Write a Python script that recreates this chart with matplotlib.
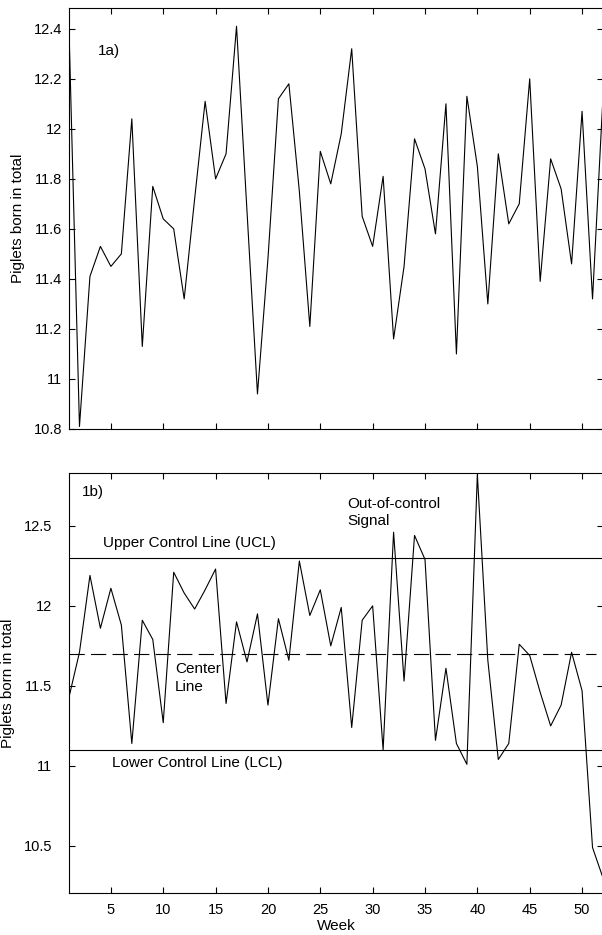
import matplotlib
matplotlib.use('Agg')
import matplotlib.pyplot as plt
import numpy as np

plt.rcParams['font.family'] = ['Liberation Sans', 'DejaVu Sans']
plt.rcParams['lines.scale_dashes'] = False

weeks = np.arange(1, 53)

# 1a) piglets born in total per week
total_1a = [12.40, 10.81, 11.41, 11.53, 11.45, 11.50, 12.04, 11.13, 11.77, 11.64,
            11.60, 11.32, 11.72, 12.11, 11.80, 11.90, 12.41, 11.67, 10.94, 11.48,
            12.12, 12.18, 11.75, 11.21, 11.91, 11.78, 11.98, 12.32, 11.65, 11.53,
            11.81, 11.16, 11.45, 11.96, 11.84, 11.58, 12.10, 11.10, 12.13, 11.85,
            11.30, 11.90, 11.62, 11.70, 12.20, 11.39, 11.88, 11.76, 11.46, 12.07,
            11.32, 12.13]

# 1b) control chart series
total_1b = [11.43, 11.71, 12.19, 11.86, 12.11, 11.88, 11.14, 11.91, 11.79, 11.27,
            12.21, 12.08, 11.98, 12.10, 12.23, 11.39, 11.90, 11.65, 11.95, 11.38,
            11.92, 11.66, 12.28, 11.94, 12.10, 11.75, 11.99, 11.24, 11.91, 12.00,
            11.10, 12.46, 11.53, 12.44, 12.29, 11.16, 11.61, 11.14, 11.01, 12.82,
            11.66, 11.04, 11.14, 11.76, 11.69, 11.46, 11.25, 11.38, 11.71, 11.47,
            10.49, 10.30]

ucl = 12.3
center = 11.7
lcl = 11.1

W, H = 602, 935
fig = plt.figure(figsize=(W / 100, H / 100), dpi=100)

left = 69 / W
width = (603 - 69) / W
ax1 = fig.add_axes([left, 1 - 429 / H, width, (429 - 8) / H])
ax2 = fig.add_axes([left, 1 - 893 / H, width, (893 - 473) / H])

fs = 10.5
fa = 11

for ax in (ax1, ax2):
    ax.set_xlim(1, 52)
    ax.set_xticks([5, 10, 15, 20, 25, 30, 35, 40, 45, 50])
    ax.tick_params(direction='in', top=True, right=True, length=4.5,
                   width=0.8, labelsize=fs)
    for s in ax.spines.values():
        s.set_linewidth(0.8)

# --- 1a
ax1.plot(weeks, total_1a, color='black', lw=0.8)
ax1.set_ylim(10.8, 12.483)
ax1.set_yticks([10.8, 11, 11.2, 11.4, 11.6, 11.8, 12, 12.2, 12.4])
ax1.set_yticklabels(['10.8', '11', '11.2', '11.4', '11.6', '11.8', '12', '12.2', '12.4'])
ax1.tick_params(axis='x', labelbottom=False)
ax1.tick_params(axis='y', pad=5)
ax1.set_ylabel('Piglets born in total', fontsize=fa, labelpad=6)
ax1.text(3.75, 12.31, '1a)', fontsize=fa, va='center')

# --- 1b
ax2.plot(weeks, total_1b, color='black', lw=0.8)
ax2.axhline(ucl, color='black', lw=0.8)
ax2.axhline(lcl, color='black', lw=0.8)
cl, = ax2.plot([1, 51.3], [center, center], color='black', lw=0.8)
cl.set_dashes([11, 4.5])
ax2.set_ylim(10.206, 12.83)
ax2.set_yticks([10.5, 11, 11.5, 12, 12.5])
ax2.set_yticklabels(['10.5', '11', '11.5', '12', '12.5'])
ax2.tick_params(axis='y', pad=12)
ax2.tick_params(axis='x', pad=7)
ax2.set_ylabel('Piglets born in total', fontsize=fa, labelpad=6)
ax2.set_xlabel('Week', fontsize=fa, labelpad=2)

ax2.text(2.25, 12.71, '1b)', fontsize=fa, va='center')
ax2.text(4.2, 12.39, 'Upper Control Line (UCL)', fontsize=fa, va='center')
ax2.text(11.1, 11.55, 'Center\nLine', fontsize=fa, va='center', linespacing=1.3)
ax2.text(5.1, 11.02, 'Lower Control Line (LCL)', fontsize=fa, va='center')
ax2.text(27.6, 12.585, 'Out-of-control\nSignal', fontsize=fa, va='center', linespacing=1.3)

fig.savefig('out.png', dpi=100)
